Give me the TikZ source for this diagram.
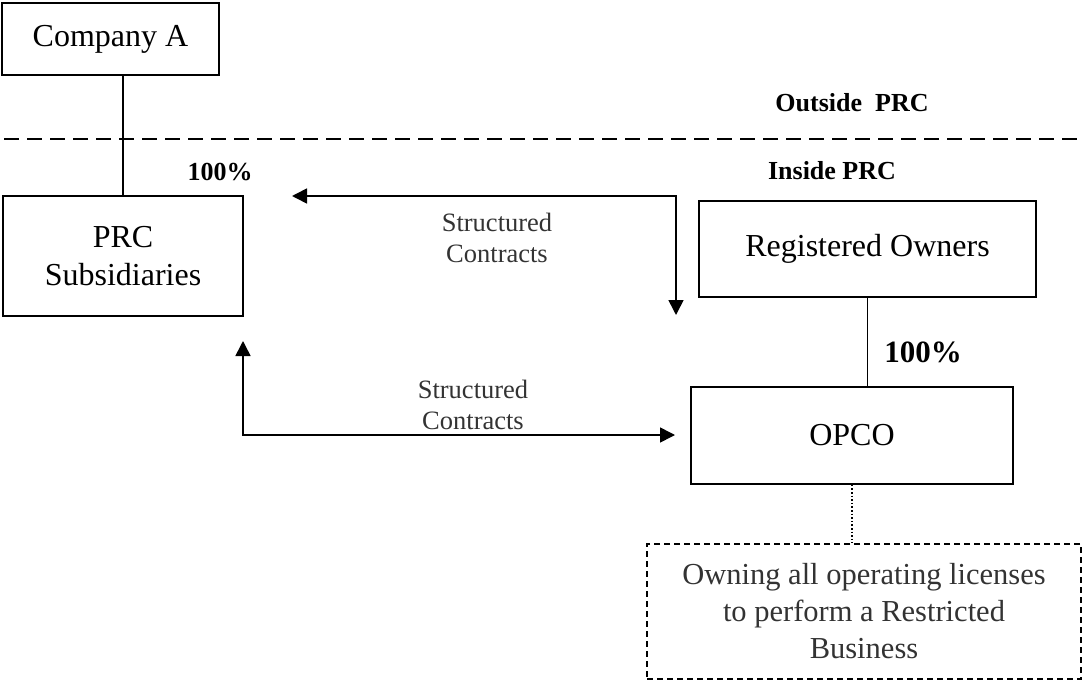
\documentclass[tikz,border=0pt]{standalone}
\usepackage{fontspec}
\setmainfont{Liberation Serif}
\usetikzlibrary{arrows.meta}
\definecolor{txtgray}{HTML}{333333}
\tikzset{
  box/.style={draw, line width=1.6pt, align=center, inner sep=0pt, font=\fontsize{32}{38}\selectfont},
  note/.style={draw, dashed, dash pattern=on 6pt off 4pt, line width=1.4pt, align=center, inner sep=0pt, text=txtgray, font=\fontsize{30.5}{37}\selectfont},
  lbl/.style={align=center, inner sep=0pt, text=txtgray, font=\fontsize{26.5}{31.5}\selectfont},
  bold/.style={inner sep=0pt, font=\fontsize{26}{30}\selectfont\bfseries},
  link/.style={line width=1.6pt},
  arr/.style={line width=1.6pt, {Triangle[length=15pt,width=15pt]}-{Triangle[length=15pt,width=15pt]}},
}
\begin{document}
\begin{tikzpicture}[x=1pt,y=-1pt]
\useasboundingbox (0,0) rectangle (1086,682);
% boxes
\node[box, minimum width=217pt, minimum height=72pt] (compA) at (110.5,39) {Company A};
\node[box, minimum width=240pt, minimum height=120pt] (subs) at (123,256) {PRC\\Subsidiaries};
\node[box, minimum width=337pt, minimum height=96pt] (ro) at (867.5,249) {Registered Owners};
\node[box, minimum width=322pt, minimum height=97pt] (opco) at (852,435.5) {OPCO};
\node[note, minimum width=434pt, minimum height=135pt] (lic) at (864,611.5) {Owning all operating licenses\\to perform a Restricted\\Business};
% border line
\coordinate (dl) at (4,139);
\coordinate (dr) at (1083,139);
\draw[line width=1.6pt, dash pattern=on 15pt off 8pt] (dl) -- (dr);
% labels
\node[bold] (out) at (852,103) {Outside\ \ PRC};
\node[bold] (in) at (832,171) {Inside PRC};
\node[bold] (p1) at (220,172) {100\%};
\node[bold, font=\fontsize{31}{36}\selectfont\bfseries] (p2) at (923,352) {100\%};
\node[lbl] (sc1) at (497,238) {Structured\\Contracts};
\node[lbl] (sc2) at (473,405) {Structured\\Contracts};
% ownership links
\draw[link] (compA.south -| subs.north) -- (subs.north);
\draw[link] (ro.south) -- (ro.south |- opco.north);
\draw[line width=1.6pt, dotted] (opco.south) -- (lic.north -| opco.south);
% contract arrows
\coordinate (t1) at (292,196);
\coordinate (t2) at (676,315);
\draw[arr] (t1) -- (t2 |- t1) -- (t2);
\coordinate (b1) at (243,341);
\coordinate (b2) at (675,435);
\draw[arr] (b1) -- (b1 |- b2) -- (b2);
\end{tikzpicture}
\end{document}
